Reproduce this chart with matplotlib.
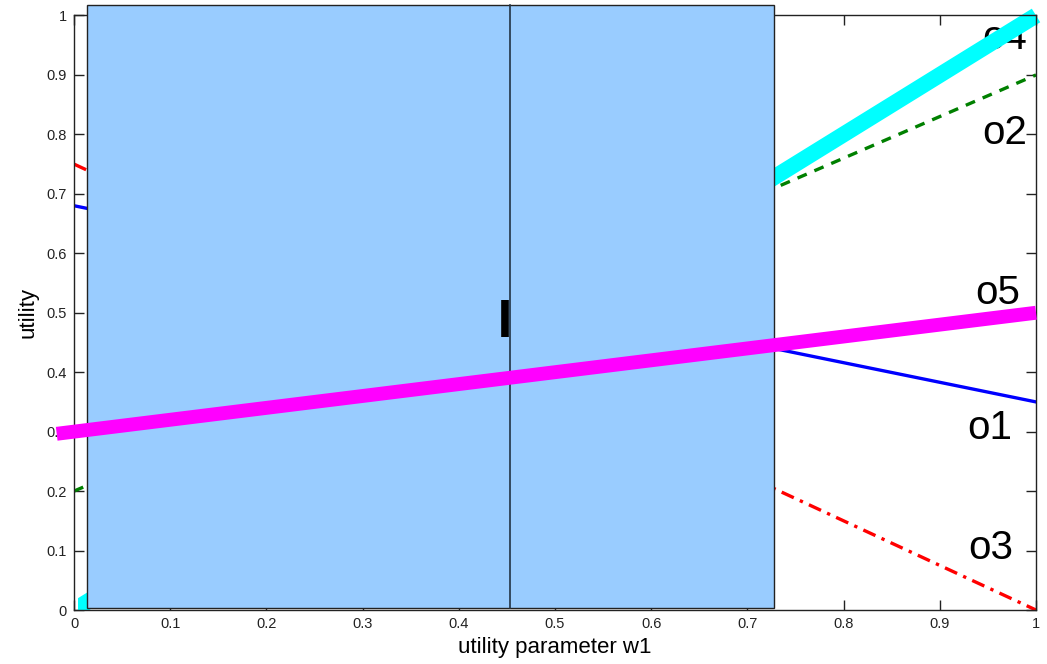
import numpy as np
import matplotlib; matplotlib.use("Agg")
import matplotlib.pyplot as plt
from matplotlib.patches import Rectangle

plt.rcParams['font.family'] = ['Liberation Sans', 'DejaVu Sans']

# utility of each option at w1 = 0 and w1 = 1 (linear in w1)
w1 = [0.0, 1.0]
o1 = [0.68, 0.35]
o2 = [0.20, 0.90]
o3 = [0.75, 0.00]
o4 = [0.00, 1.00]
w1_o5 = [-0.018, 1.0]
o5 = [0.2964, 0.50]
labels = ["o4", "o2", "o5", "o1", "o3"]

# shaded interval and marker
band = (0.0135, 0.728)
band_y = (0.004, 1.018)
w_mark = 0.453
bar_y = (0.459, 0.521)

fig = plt.figure(figsize=(10.47, 6.64), dpi=100)
ax = fig.add_axes([0.0707, 0.0813, 0.9188, 0.8954])

ax.plot(w1, o1, color="blue", lw=2.4, zorder=2)
ax.plot(w1, o2, color="green", lw=2.4, ls=(0, (3, 2.5)), zorder=2)
ax.plot(w1, o3, color="red", lw=2.4, ls=(0, (4, 2, 1, 2)), zorder=2)
cy, = ax.plot(w1, o4, color="cyan", lw=11.5, solid_capstyle="butt", zorder=2.5)
cy.set_clip_path(Rectangle((0.004, 0.0), 1.05, 1.05, transform=ax.transAxes))

ax.add_patch(Rectangle((band[0], band_y[0]), band[1] - band[0], band_y[1] - band_y[0],
                       facecolor="#99ccff", edgecolor="#222222", lw=1.0, clip_on=False, zorder=3))
ax.plot([w_mark, w_mark], band_y, color="#223344", lw=1.2, clip_on=False, zorder=3.5)
ax.plot([w_mark - 0.0045, w_mark - 0.0045], bar_y, color="black", lw=5.5, solid_capstyle="butt", zorder=3.6)

ax.plot(w1_o5, o5, color="magenta", lw=10, solid_capstyle="butt", clip_on=False, zorder=4)

# option labels at the right edge
lab_pos = [(0.991, 0.962), (0.991, 0.802), (0.983, 0.533), (0.975, 0.306), (0.976, 0.104)]
for lab, (x, y) in zip(labels, lab_pos):
    ax.text(x, y, lab, fontsize=29, ha="right", va="center", color="black", zorder=2.2)

ax.set_xlim(0, 1); ax.set_ylim(0, 1)
ticks = np.round(np.arange(0, 1.01, 0.1), 1)
ticklabs = ["0"] + [f"{t:g}" for t in ticks[1:-1]] + ["1"]
ax.set_xticks(ticks); ax.set_xticklabels(ticklabs)
ax.set_yticks(ticks); ax.set_yticklabels(ticklabs)
ax.tick_params(direction="in", length=7, width=1, top=True, right=True,
               labelsize=10.5, colors="#222222", pad=5)
for s in ax.spines.values():
    s.set_color("#222222"); s.set_linewidth(1.0)
ax.set_xlabel("utility parameter w1", fontsize=16, labelpad=4)
ax.set_ylabel("utility", fontsize=16, labelpad=6)

fig.savefig("out.png", dpi=100)
